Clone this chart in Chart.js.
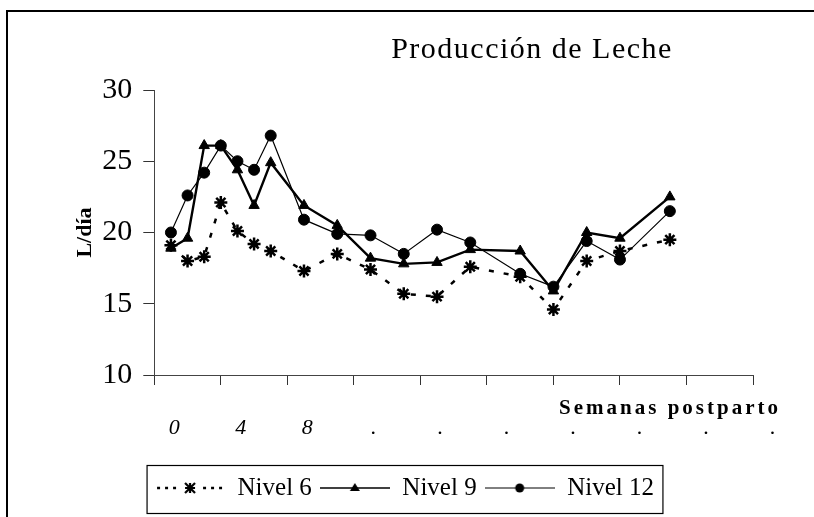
<!DOCTYPE html>
<html>
<head>
<meta charset="utf-8">
<script src="https://cdn.jsdelivr.net/npm/chart.js@4"></script>
<style>
  html, body { margin: 0; padding: 0; background: #fff; }
  canvas { display: block; }
</style>
</head>
<body>
<canvas id="milk" width="814" height="517"></canvas>
<script>
// ----------------------------------------
// Data
// ----------------------------------------
var weeks   = [1, 2, 3, 4, 5, 6, 7, 9, 11, 13, 15, 17, 19, 22, 24, 26, 28, 31];
var nivel6  = [19.1, 18.0, 18.3, 22.1, 20.1, 19.2, 18.7, 17.3, 18.5, 17.4, 15.7, 15.5, 17.6, 16.9, 14.6, 18.0, 18.7, 19.5];
var nivel9  = [18.9, 19.6, 26.1, 26.1, 24.4, 21.9, 24.9, 21.9, 20.5, 18.2, 17.8, 17.9, 18.8, 18.7, 15.9, 20.0, 19.6, 22.5];
var nivel12 = [20.0, 22.6, 24.2, 26.1, 25.0, 24.4, 26.8, 20.9, 19.9, 19.8, 18.5, 20.2, 19.3, 17.1, 16.2, 19.4, 18.1, 21.5];

var tickLabels  = ['0', '4', '8', '.', '.', '.', '.', '.', '.', '.'];
var seriesNames = ['Nivel 6', 'Nivel 9', 'Nivel 12'];
var chartTitle  = 'Producción de Leche';
var xTitle      = 'Semanas postparto';
var yTitle      = 'L/día';

var SERIF = '"Liberation Serif", "Times New Roman", serif';
Chart.defaults.font.family = SERIF;
Chart.defaults.color = '#000';

function toPoints(values) {
    return weeks.map(function (w, i) {
        return { x: w, y: values[i] };
    });
}

// Small canvas swatches for the legend: line + marker
function legendSwatch(kind) {
    var c = document.createElement('canvas');
    c.width = 70;
    c.height = 20;
    var g = c.getContext('2d');
    var cy = 10, cx = 35;
    g.strokeStyle = '#000';
    g.fillStyle = '#000';

    if (kind === 0) {
        // dotted line with star
        g.lineWidth = 2.5;
        [2, 10, 18, 48, 56, 64].forEach(function (x) {
            g.beginPath();
            g.moveTo(x, cy);
            g.lineTo(x + 3, cy);
            g.stroke();
        });
        g.lineWidth = 2.2;
        var r = 5;
        g.beginPath();
        g.moveTo(cx - r, cy - r); g.lineTo(cx + r, cy + r);
        g.moveTo(cx - r, cy + r); g.lineTo(cx + r, cy - r);
        g.moveTo(cx, cy - r); g.lineTo(cx, cy + r);
        g.moveTo(cx - r, cy); g.lineTo(cx + r, cy);
        g.stroke();
    } else if (kind === 1) {
        g.lineWidth = 1.6;
        g.beginPath(); g.moveTo(0, cy); g.lineTo(70, cy); g.stroke();
        g.beginPath();
        g.moveTo(cx, cy - 5); g.lineTo(cx + 5, cy + 3); g.lineTo(cx - 5, cy + 3);
        g.closePath();
        g.fill();
    } else {
        g.lineWidth = 1;
        g.beginPath(); g.moveTo(0, cy); g.lineTo(70, cy); g.stroke();
        g.beginPath();
        g.arc(cx, cy, 4.5, 0, Math.PI * 2);
        g.fill();
    }
    return c;
}

// Extra texts and frames
var decorPlugin = {
    id: 'decor',
    afterDraw: function (chart) {
        var ctx = chart.ctx;
        var area = chart.chartArea;
        ctx.save();

        // page frame (left and top)
        ctx.strokeStyle = '#000';
        ctx.lineWidth = 2;
        ctx.beginPath();
        ctx.moveTo(7, chart.height);
        ctx.lineTo(7, 11);
        ctx.lineTo(chart.width, 11);
        ctx.stroke();

        ctx.fillStyle = '#000';
        ctx.textBaseline = 'alphabetic';

        // chart title
        ctx.font = '30px ' + SERIF;
        ctx.letterSpacing = '1.5px';
        ctx.textAlign = 'center';
        ctx.fillText(chartTitle, area.right - 221, area.top - 32);

        // x axis title
        ctx.font = 'bold 21px ' + SERIF;
        ctx.letterSpacing = '3px';
        ctx.textAlign = 'right';
        ctx.fillText(xTitle, area.right + 28, area.bottom + 39);
        ctx.letterSpacing = '0px';

        // legend frame
        var boxes = chart.legend.legendHitBoxes;
        var first = boxes[0], last = boxes[boxes.length - 1];
        var left = first.left - 8;
        var right = last.left + last.width + 9;
        ctx.lineWidth = 1.2;
        ctx.strokeRect(left, first.top - 10, right - left, 48);

        ctx.restore();
    }
};

var swatches = [legendSwatch(0), legendSwatch(1), legendSwatch(2)];

var ctx = document.getElementById('milk').getContext('2d');
var config = {
    type: 'line',
    data: {
        datasets: [{
            label: seriesNames[0],
            data: toPoints(nivel6),
            borderColor: '#000',
            backgroundColor: '#000',
            borderWidth: 2.5,
            borderDash: [5, 10],
            pointStyle: 'star',
            pointRadius: 6.5,
            pointBorderWidth: 2.5,
            pointBorderColor: '#000'
        }, {
            label: seriesNames[1],
            data: toPoints(nivel9),
            borderColor: '#000',
            backgroundColor: '#000',
            borderWidth: 2.4,
            pointStyle: 'triangle',
            pointRadius: 6,
            pointBorderWidth: 1,
            pointBackgroundColor: '#000',
            pointBorderColor: '#000'
        }, {
            label: seriesNames[2],
            data: toPoints(nivel12),
            borderColor: '#000',
            backgroundColor: '#000',
            borderWidth: 1.2,
            pointStyle: 'circle',
            pointRadius: 5.5,
            pointBorderWidth: 1,
            pointBackgroundColor: '#000',
            pointBorderColor: '#000'
        }]
    },
    options: {
        responsive: false,
        animation: false,
        layout: {
            padding: { left: 56, right: 61, top: 90, bottom: 6.5 }
        },
        plugins: {
            title: { display: false },
            tooltip: { enabled: false },
            legend: {
                position: 'bottom',
                align: 'center',
                labels: {
                    usePointStyle: true,
                    pointStyleWidth: 70,
                    padding: 8,
                    color: '#000',
                    font: { family: SERIF, size: 25 },
                    generateLabels: function (chart) {
                        return chart.data.datasets.map(function (ds, i) {
                            return {
                                text: ds.label,
                                datasetIndex: i,
                                pointStyle: swatches[i],
                                fillStyle: '#000',
                                strokeStyle: '#000',
                                lineWidth: 0,
                                hidden: false,
                                fontColor: '#000'
                            };
                        });
                    }
                }
            }
        },
        scales: {
            x: {
                type: 'linear',
                min: 0,
                max: 36,
                afterFit: function (scale) {
                    scale.height = 92.5;
                },
                border: { display: true, color: '#444', width: 1 },
                grid: { drawOnChartArea: false, drawTicks: true, tickLength: 10, color: '#333' },
                ticks: {
                    stepSize: 4,
                    autoSkip: false,
                    maxRotation: 0,
                    labelOffset: 20,
                    padding: 3.5,
                    color: '#000',
                    font: { family: SERIF, size: 22, style: 'italic', lineHeight: 3.59 },
                    callback: function (value) {
                        return tickLabels[Math.round(value / 4)];
                    }
                }
            },
            y: {
                min: 10,
                max: 30,
                afterFit: function (scale) {
                    scale.width = 98.3;
                },
                border: { display: true, color: '#444', width: 1 },
                grid: { drawOnChartArea: false, drawTicks: true, tickLength: 11, color: '#333' },
                ticks: {
                    stepSize: 5,
                    padding: 11,
                    color: '#000',
                    font: { family: SERIF, size: 30 }
                },
                title: {
                    display: true,
                    text: yTitle,
                    color: '#000',
                    font: { family: SERIF, size: 22, weight: 'bold' },
                    padding: { top: 16, bottom: 4 }
                }
            }
        }
    },
    plugins: [decorPlugin]
};
var chart = new Chart(ctx, config);
</script>
</body>
</html>
